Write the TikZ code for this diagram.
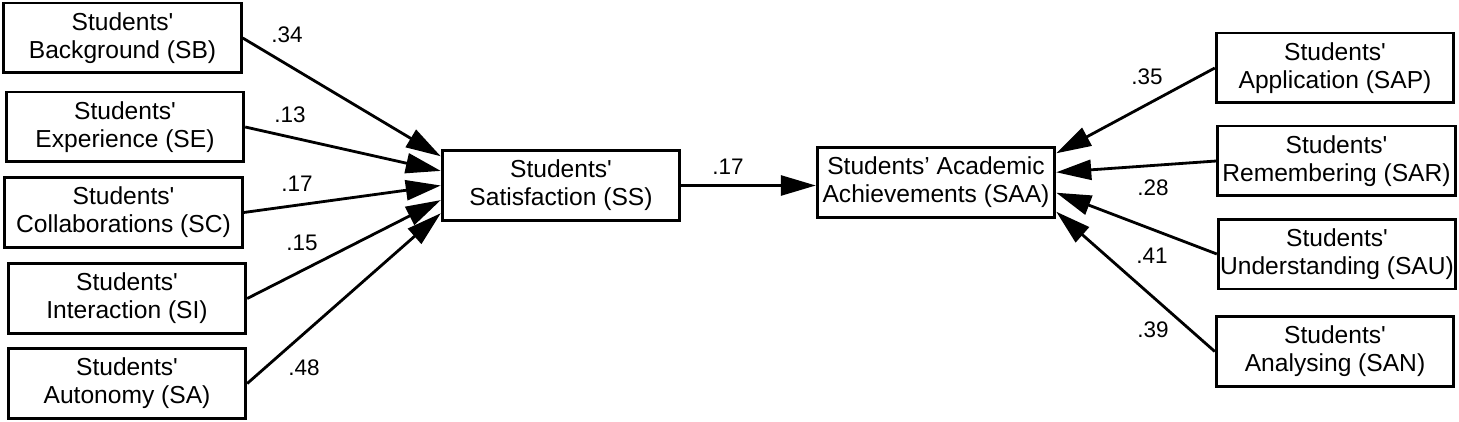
\documentclass[tikz,border=0pt]{standalone}
\usepackage{fontspec}
\setmainfont{Liberation Sans}
\usetikzlibrary{arrows.meta, calc}
\tikzstyle{block} = [draw, line width=1.7pt, minimum width=4.75cm, minimum height=1.4cm, inner sep=1pt, align=center, font=\fontsize{14}{15.8}\selectfont]
\tikzstyle{arrow} = [line width=1.6pt, -{Triangle[length=0.7cm,width=0.4cm]}]
\tikzstyle{weight} = [inner sep=0pt, font=\fontsize{12.8}{14}\selectfont]
\newcommand{\stud}{Students\textquotesingle}

\begin{document}
\begin{tikzpicture}[x=0.02cm, y=-0.02cm]
        \useasboundingbox (0,0) rectangle (1459,422);

        % left hand side
        \node[block] (sb) at (122.5,38) {\stud\\Background (SB)};
        \node[block] (se) at (125,127) {\stud\\Experience (SE)};
        \node[block] (sc) at (123.5,212.5) {\stud\\Collaborations (SC)};
        \node[block] (si) at (127,298.5) {\stud\\Interaction (SI)};
        \node[block] (sa) at (127,383.5) {\stud\\Autonomy (SA)};

        \node[block] (ss) at (561,185.5) {\stud\\Satisfaction (SS)};
        \node[block] (saa) at (936,182.5) {Students’ Academic\\Achievements (SAA)};

        % right hand side
        \node[block] (sap) at (1335,68) {\stud\\Application (SAP)};
        \node[block] (sar) at (1336.5,161) {\stud\\Remembering (SAR)};
        \node[block] (sau) at (1337,254) {\stud\\Understanding (SAU)};
        \node[block] (san) at (1335,351.5) {\stud\\Analysing (SAN)};

        \draw[arrow] (sb.east) -- ($(ss.north west)!0.1!(ss.south west)$);
        \draw[arrow] (se.east) -- ($(ss.north west)!0.3!(ss.south west)$);
        \draw[arrow] (sc.east) -- ($(ss.north west)!0.5!(ss.south west)$);
        \draw[arrow] (si.east) -- ($(ss.north west)!0.7!(ss.south west)$);
        \draw[arrow] (sa.east) -- ($(ss.north west)!0.88!(ss.south west)$);

        \draw[arrow] (ss.east) -- (ss.east -| saa.west);

        \draw[arrow] (sap.west) -- ($(saa.north east)!0.1!(saa.south east)$);
        \draw[arrow] (sar.west) -- ($(saa.north east)!0.36!(saa.south east)$);
        \draw[arrow] (sau.west) -- ($(saa.north east)!0.64!(saa.south east)$);
        \draw[arrow] (san.west) -- ($(saa.north east)!0.9!(saa.south east)$);

        % path weights
        \node[weight] (wsb) at (287,35) {.34};
        \node[weight] (wse) at (290,115) {.13};
        \node[weight] (wsc) at (297,184) {.17};
        \node[weight] (wsi) at (302,243) {.15};
        \node[weight] (wsa) at (304,368) {.48};
        \node[weight] (wss) at (728,167) {.17};
        \node[weight] (wsap) at (1147,77) {.35};
        \node[weight] (wsar) at (1153,188) {.28};
        \node[weight] (wsau) at (1152,256) {.41};
        \node[weight] (wsan) at (1153,330) {.39};

    \end{tikzpicture}
\end{document}
